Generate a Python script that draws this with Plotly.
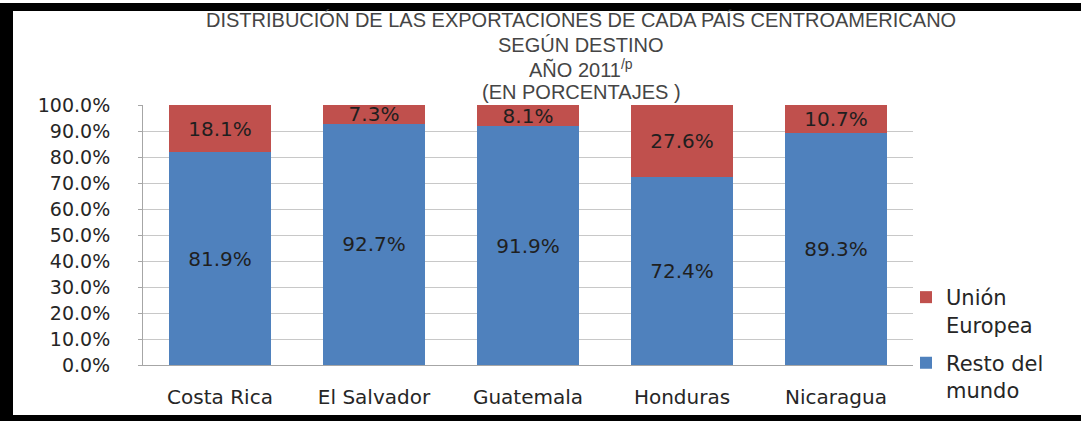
import plotly.graph_objects as go

categories = ["Costa Rica", "El Salvador", "Guatemala", "Honduras", "Nicaragua"]
resto_mundo = [81.9, 92.7, 91.9, 72.4, 89.3]
union_europea = [18.1, 7.3, 8.1, 27.6, 10.7]
series_names = ["Resto del<br>mundo", "Unión<br>Europea"]
y_ticks = [0, 10, 20, 30, 40, 50, 60, 70, 80, 90, 100]
title_lines = [
    "DISTRIBUCIÓN DE LAS EXPORTACIONES DE CADA PAÍS CENTROAMERICANO",
    "SEGÚN DESTINO",
    "AÑO 2011<sup>/p</sup>",
    "(EN PORCENTAJES )",
]

W, H = 1081, 421
L, R, T, B = 143, 913, 105, 365


def px_x(p):
    return (p - L) / (R - L)


def px_y(p):
    return (B - p) / (B - T)


label_font = dict(family="DejaVu Sans, Verdana, sans-serif", size=20, color="#1f1f1f")

fig = go.Figure()
fig.add_trace(go.Bar(
    x=categories, y=resto_mundo, name=series_names[0], legendgroup="resto", legendrank=2,
    marker=dict(color="#4F81BD", line=dict(width=0)),
    text=[f"{v:.1f}%" for v in resto_mundo], textposition="inside",
    insidetextanchor="middle", constraintext="none", textfont=label_font,
))
fig.add_trace(go.Bar(
    x=categories, y=union_europea, name=series_names[1], legendgroup="ue", legendrank=1,
    marker=dict(color="#C0504D", line=dict(width=0)),
    text=[f"{v:.1f}%" for v in union_europea], textposition="inside",
    insidetextanchor="middle", constraintext="none", textfont=label_font,
))

title_y = [20, 45, 68, 92]
annotations = []
for txt, py in zip(title_lines, title_y):
    annotations.append(dict(
        text=txt, x=px_x(581), y=px_y(py), xref="paper", yref="paper",
        showarrow=False, xanchor="center", yanchor="middle",
        font=dict(family="Liberation Sans Narrow, Liberation Sans, Arial, sans-serif", size=20, color="#454545"),
    ))

# black frame: paper is black, white panels drawn over it
shapes = [
    dict(type="rect", xref="paper", yref="paper", x0=px_x(13), x1=px_x(W + 5), y0=px_y(415), y1=px_y(11),
         fillcolor="white", line=dict(width=0), layer="below"),
    dict(type="rect", xref="paper", yref="paper", x0=px_x(-5), x1=px_x(W + 5), y0=px_y(3), y1=px_y(-5),
         fillcolor="white", line=dict(width=0), layer="below"),
]

fig.update_layout(
    width=W, height=H,
    margin=dict(l=L, r=W - R, t=T, b=H - B, pad=0, autoexpand=False),
    barmode="stack", bargap=0.34,
    paper_bgcolor="black", plot_bgcolor="white",
    showlegend=True,
    legend=dict(
        x=px_x(906), y=px_y(277), xanchor="left", yanchor="top",
        traceorder="grouped", tracegroupgap=8, valign="top",
        font=dict(family="DejaVu Sans, Verdana, sans-serif", size=21, color="#262626"),
        itemwidth=30, bgcolor="rgba(0,0,0,0)",
    ),
    annotations=annotations,
    shapes=shapes,
    xaxis=dict(
        showline=True, linecolor="#A6A6A6", linewidth=1, showgrid=False,
        ticks="", ticklabelstandoff=14,
        tickfont=dict(family="DejaVu Sans, Verdana, sans-serif", size=20, color="#262626"),
    ),
    yaxis=dict(
        range=[0, 100], tickvals=y_ticks, ticktext=[f"{v:.1f}%" for v in y_ticks],
        showline=True, linecolor="#A6A6A6", linewidth=1,
        showgrid=True, gridcolor="#C8C8C8", gridwidth=1,
        ticks="outside", ticklen=4, tickcolor="#A6A6A6", ticklabelstandoff=24,
        tickfont=dict(family="DejaVu Sans, Verdana, sans-serif", size=19, color="#262626"),
        zeroline=False,
    ),
)

fig.write_html(
    "out.html",
    config={"displayModeBar": False},
    post_script="document.body.style.margin='0';document.body.style.overflow='hidden';",
)
